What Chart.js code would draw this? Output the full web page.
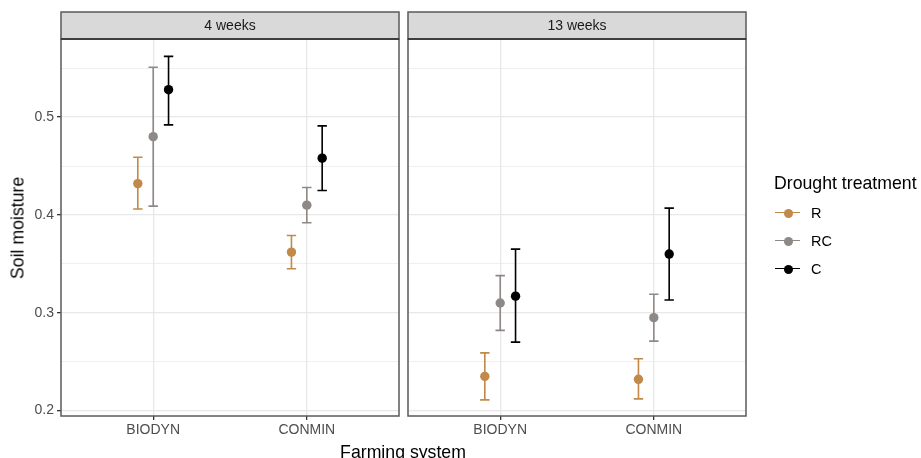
<!DOCTYPE html>
<html><head><meta charset="utf-8">
<script src="https://cdn.jsdelivr.net/npm/chart.js@4/dist/chart.umd.min.js"></script>
<style>
html,body{margin:0;padding:0;background:#fff}
body{width:921px;height:458px;overflow:hidden;position:relative;font-family:"Liberation Sans",Arial,Helvetica,sans-serif}
canvas{position:absolute;left:0;top:0}
.t{position:absolute;white-space:nowrap;color:#000}
.key{position:absolute;left:775px;width:25px;height:0;border-top:1.6px solid}
.dot{position:absolute;left:783.5px;width:9px;height:9px;border-radius:50%}
.lab{position:absolute;left:811px;font-size:14.5px;color:#000;line-height:16px}
</style></head><body>
<canvas id="c1" width="921" height="458"></canvas>
<canvas id="c2" width="921" height="458"></canvas>
<div class="t" style="left:18px;top:227.5px;font-size:17.7px;transform:translate(-50%,-50%) rotate(-90deg)">Soil moisture</div>
<div class="t" style="left:403px;top:442px;font-size:17.7px;transform:translateX(-50%)">Farming system</div>
<div class="t" style="left:774px;top:173px;font-size:17.7px">Drought treatment</div>
<div id="legend"></div>
<script>
// ---- data ----
const categories = ['BIODYN', 'CONMIN'];
const panels = ['4 weeks', '13 weeks'];
const treatments = ['R', 'RC', 'C'];
const colors = ['#c1894a', '#8e8986', '#000000'];

// 4 weeks: [BIODYN, CONMIN]
const rMean4  = [0.432, 0.362];
const rLo4    = [0.406, 0.345];
const rHi4    = [0.459, 0.379];
const rcMean4 = [0.480, 0.410];
const rcLo4   = [0.409, 0.392];
const rcHi4   = [0.551, 0.428];
const cMean4  = [0.528, 0.458];
const cLo4    = [0.492, 0.425];
const cHi4    = [0.562, 0.491];

// 13 weeks: [BIODYN, CONMIN]
const rMean13  = [0.235, 0.232];
const rLo13    = [0.211, 0.212];
const rHi13    = [0.259, 0.253];
const rcMean13 = [0.310, 0.295];
const rcLo13   = [0.282, 0.271];
const rcHi13   = [0.338, 0.319];
const cMean13  = [0.317, 0.360];
const cLo13    = [0.270, 0.313];
const cHi13    = [0.365, 0.407];

const yTicks = [0.2, 0.25, 0.3, 0.35, 0.4, 0.45, 0.5, 0.55];

// ---- helpers ----
const dodge = [-0.1, 0, 0.1];
const isMajor = v => Math.abs(v * 10 - Math.round(v * 10)) < 1e-6;

function makeDatasets(means, los, his) {
  return treatments.map((t, i) => ({
    label: t,
    data: means[i].map((v, j) => ({ x: j + 1 + dodge[i], y: v })),
    errLo: los[i],
    errHi: his[i],
    backgroundColor: colors[i],
    borderColor: colors[i],
    borderWidth: 0,
    pointRadius: 4.7,
    pointHoverRadius: 4.7
  }));
}

const errorBars = {
  id: 'errorBars',
  beforeDatasetsDraw(chart) {
    const ctx = chart.ctx, ys = chart.scales.y;
    chart.data.datasets.forEach((ds, i) => {
      const meta = chart.getDatasetMeta(i);
      ctx.save();
      ctx.strokeStyle = ds.borderColor;
      ctx.lineWidth = 1.6;
      meta.data.forEach((pt, j) => {
        const x = pt.x;
        const yl = ys.getPixelForValue(ds.errLo[j]);
        const yh = ys.getPixelForValue(ds.errHi[j]);
        ctx.beginPath();
        ctx.moveTo(x, yl); ctx.lineTo(x, yh);
        ctx.moveTo(x - 4.7, yl); ctx.lineTo(x + 4.7, yl);
        ctx.moveTo(x - 4.7, yh); ctx.lineTo(x + 4.7, yh);
        ctx.stroke();
      });
      ctx.restore();
    });
  }
};

const panelDeco = {
  id: 'panelDeco',
  afterDraw(chart, args, opts) {
    const ctx = chart.ctx, a = chart.chartArea;
    ctx.save();
    // strip
    ctx.fillStyle = '#d9d9d9';
    ctx.fillRect(a.left, 12, a.right - a.left, a.top - 12);
    ctx.strokeStyle = '#5a5a5a';
    ctx.lineWidth = 1.5;
    ctx.strokeRect(a.left, 12, a.right - a.left, a.top - 12);
    ctx.fillStyle = '#1a1a1a';
    ctx.font = '14px "Liberation Sans", Arial, sans-serif';
    ctx.textAlign = 'center';
    ctx.textBaseline = 'middle';
    ctx.fillText(opts.title, (a.left + a.right) / 2, (12 + a.top) / 2 + 0.5);
    // panel border
    ctx.strokeRect(a.left, a.top, a.right - a.left, a.bottom - a.top);
    ctx.strokeStyle = '#333333';
    ctx.beginPath();
    ctx.moveTo(a.left, a.top); ctx.lineTo(a.right, a.top);
    ctx.stroke();
    ctx.restore();
  }
};

function makeChart(id, datasets, title, padLeft, padRight, showY) {
  return new Chart(document.getElementById(id), {
    type: 'scatter',
    data: { datasets },
    plugins: [errorBars, panelDeco],
    options: {
      responsive: false,
      animation: false,
      events: [],
      layout: { padding: { left: padLeft, right: padRight, top: 39, bottom: 0 } },
      plugins: { legend: { display: false }, tooltip: { enabled: false }, panelDeco: { title } },
      scales: {
        x: {
          type: 'linear', min: 0.4, max: 2.6,
          afterBuildTicks: s => { s.ticks = categories.map((c, i) => ({ value: i + 1 })); },
          afterFit: s => { s.height = 42; },
          ticks: {
            callback: v => categories[Math.round(v) - 1],
            font: { size: 14, family: '"Liberation Sans", Arial, sans-serif' },
            color: '#4d4d4d', padding: 2, maxRotation: 0, autoSkip: false
          },
          grid: { color: '#e8e8e8', lineWidth: 1.3, tickColor: '#333333', tickLength: 4, drawTicks: true },
          border: { display: false }
        },
        y: {
          type: 'linear', min: 0.1945, max: 0.5798,
          afterBuildTicks: s => { s.ticks = yTicks.map(v => ({ value: v })); },
          afterFit: s => { s.width = showY ? 61 : 0; },
          ticks: {
            display: showY,
            callback: v => isMajor(v) ? v.toFixed(1) : '',
            font: { size: 14, family: '"Liberation Sans", Arial, sans-serif' },
            color: '#4d4d4d', padding: 3, autoSkip: false
          },
          grid: {
            color: '#e8e8e8',
            lineWidth: c => (c.tick && isMajor(c.tick.value)) ? 1.3 : 0.7,
            tickColor: c => (c.tick && isMajor(c.tick.value)) ? '#333333' : 'rgba(0,0,0,0)',
            tickLength: 4,
            drawTicks: showY
          },
          border: { display: false }
        }
      }
    }
  });
}

makeChart('c1', makeDatasets([rMean4, rcMean4, cMean4], [rLo4, rcLo4, cLo4], [rHi4, rcHi4, cHi4]), panels[0], 0, 522, true);
makeChart('c2', makeDatasets([rMean13, rcMean13, cMean13], [rLo13, rcLo13, cLo13], [rHi13, rcHi13, cHi13]), panels[1], 408, 175, false);

// legend
const lg = document.getElementById('legend');
const keyY = [213, 241, 269];
treatments.forEach((t, i) => {
  lg.insertAdjacentHTML('beforeend',
    `<div class="key" style="top:${keyY[i] - 0.8}px;border-color:${colors[i]}"></div>` +
    `<div class="dot" style="top:${keyY[i] - 4.5}px;background:${colors[i]}"></div>` +
    `<div class="lab" style="top:${keyY[i] - 8}px">${t}</div>`);
});
</script>
</body></html>
